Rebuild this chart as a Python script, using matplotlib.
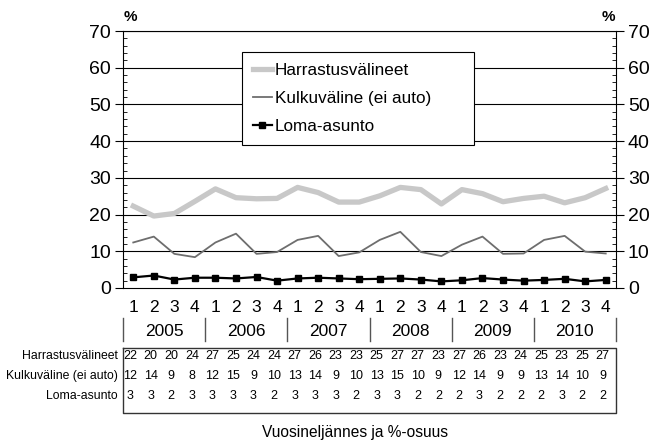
import matplotlib
matplotlib.use("Agg")
import matplotlib.pyplot as plt
from matplotlib.ticker import MultipleLocator

FAMILY = ['Liberation Sans', 'DejaVu Sans']
plt.rcParams['font.family'] = FAMILY

years = ['2005', '2006', '2007', '2008', '2009', '2010']
quarters = ['1', '2', '3', '4']
series_names = ['Harrastusvälineet', 'Kulkuväline (ei auto)', 'Loma-asunto']

harrastus = [22.3, 19.6, 20.3, 23.6, 27.0, 24.6, 24.3, 24.4, 27.4, 26.0, 23.4, 23.4,
             25.1, 27.4, 26.8, 22.9, 26.8, 25.7, 23.5, 24.4, 25.0, 23.2, 24.6, 27.1]
kulku = [12.4, 14.0, 9.3, 8.4, 12.4, 14.8, 9.3, 9.8, 13.1, 14.2, 8.7, 9.7,
         13.1, 15.3, 9.8, 8.7, 11.8, 14.0, 9.3, 9.4, 13.1, 14.2, 9.9, 9.4]
loma = [2.9, 3.4, 2.3, 2.8, 2.8, 2.6, 3.0, 2.0, 2.6, 2.8, 2.6, 2.4,
        2.5, 2.6, 2.3, 1.8, 2.1, 2.7, 2.3, 2.0, 2.2, 2.5, 1.8, 2.2]

table_harr = [22, 20, 20, 24, 27, 25, 24, 24, 27, 26, 23, 23, 25, 27, 27, 23, 27, 26, 23, 24, 25, 23, 25, 27]
table_kulku = [12, 14, 9, 8, 12, 15, 9, 10, 13, 14, 9, 10, 13, 15, 10, 9, 12, 14, 9, 9, 13, 14, 10, 9]
table_loma = [3, 3, 2, 3, 3, 3, 3, 2, 3, 3, 3, 2, 3, 3, 2, 2, 2, 3, 2, 2, 2, 3, 2, 2]

W, H = 652, 442
fig = plt.figure(figsize=(W / 100, H / 100), dpi=100)
ax_l, ax_r, ax_t, ax_b = 123, 616, 31, 288
ax = fig.add_axes([ax_l / W, 1 - ax_b / H, (ax_r - ax_l) / W, (ax_b - ax_t) / H])

n = len(harrastus)
x = list(range(n))

for yv in range(10, 71, 10):
    ax.axhline(yv, color='black', lw=0.8, zorder=1)

ax.plot(x, harrastus, color='#c8c8c8', lw=3.8, label=series_names[0], zorder=3)
ax.plot(x, kulku, color='#6e6e6e', lw=1.3, label=series_names[1], zorder=3)
ax.plot(x, loma, color='black', lw=1.6, marker='s', markersize=4.5, label=series_names[2], zorder=4)

ax.set_xlim(-0.5, n - 0.5)
ax.set_ylim(0, 70)
ax.yaxis.set_major_locator(MultipleLocator(10))
ax.yaxis.set_minor_locator(MultipleLocator(2))
ax.tick_params(axis='y', which='major', direction='out', length=5.5, width=0.8,
               left=True, right=True, labelleft=True, labelright=True, labelsize=14, pad=3)
ax.tick_params(axis='y', which='minor', direction='in', length=3, width=0.6, left=True, right=True)

qlabels = [q for _ in years for q in quarters]
ax.set_xticks(x)
ax.set_xticklabels(qlabels, fontsize=12.5, family=FAMILY)
ax.tick_params(axis='x', length=0, pad=9)
for s in ax.spines.values():
    s.set_color('black')
    s.set_linewidth(0.8)

trans = ax.get_xaxis_transform()
hpx = ax_b - ax_t

def ay(ypix):
    return (ax_b - ypix) / hpx

# year labels and separators
for i, yr in enumerate(years):
    ax.text(4 * i + 1.5, ay(331), yr, transform=trans, ha='center', va='center',
            fontsize=12.5, family=FAMILY, clip_on=False)
for i in range(len(years) + 1):
    ax.plot([4 * i - 0.5, 4 * i - 0.5], [ay(318), ay(341)], transform=trans,
            color='#555555', lw=1.0, clip_on=False)

# table box
box_top, box_bot = ay(348), ay(413)
ax.plot([-0.5, n - 0.5, n - 0.5, -0.5, -0.5], [box_top, box_top, box_bot, box_bot, box_top],
        transform=trans, color='#333333', lw=1.0, clip_on=False)

rows = [table_harr, table_kulku, table_loma]
row_y = [356, 376, 396]
for name, vals, ry in zip(series_names, rows, row_y):
    ax.text(-0.75, ay(ry), name, transform=trans, ha='right', va='center',
            fontsize=8.8, family=FAMILY, clip_on=False)
    for xi, v in zip(x, vals):
        ax.text(xi - 0.15, ay(ry), str(v), transform=trans, ha='center', va='center',
                fontsize=9, family=FAMILY, clip_on=False)

# % labels
fig.text(130 / W, 1 - 17 / H, '%', ha='center', va='center', fontsize=11, fontweight='bold', family=FAMILY)
fig.text(608 / W, 1 - 17 / H, '%', ha='center', va='center', fontsize=11, fontweight='bold', family=FAMILY)

fig.text(355 / W, 1 - 433 / H, 'Vuosineljännes ja %-osuus', ha='center', va='center',
         fontsize=11.2, family=FAMILY)

lx0 = (242 - ax_l) / (ax_r - ax_l)
lx1 = (474 - ax_l) / (ax_r - ax_l)
ly0 = ay(145)
ly1 = ay(52)
leg = ax.legend(loc='upper left', bbox_to_anchor=(lx0, ly0, lx1 - lx0, ly1 - ly0), mode='expand',
                prop={'family': FAMILY, 'size': 12.3}, frameon=True, fancybox=False,
                edgecolor='black', framealpha=1,
                handlelength=1.15, handletextpad=0.15, labelspacing=0.78, borderpad=0.62,
                borderaxespad=0)
leg.get_frame().set_linewidth(0.8)

fig.savefig('out.png', dpi=100)
